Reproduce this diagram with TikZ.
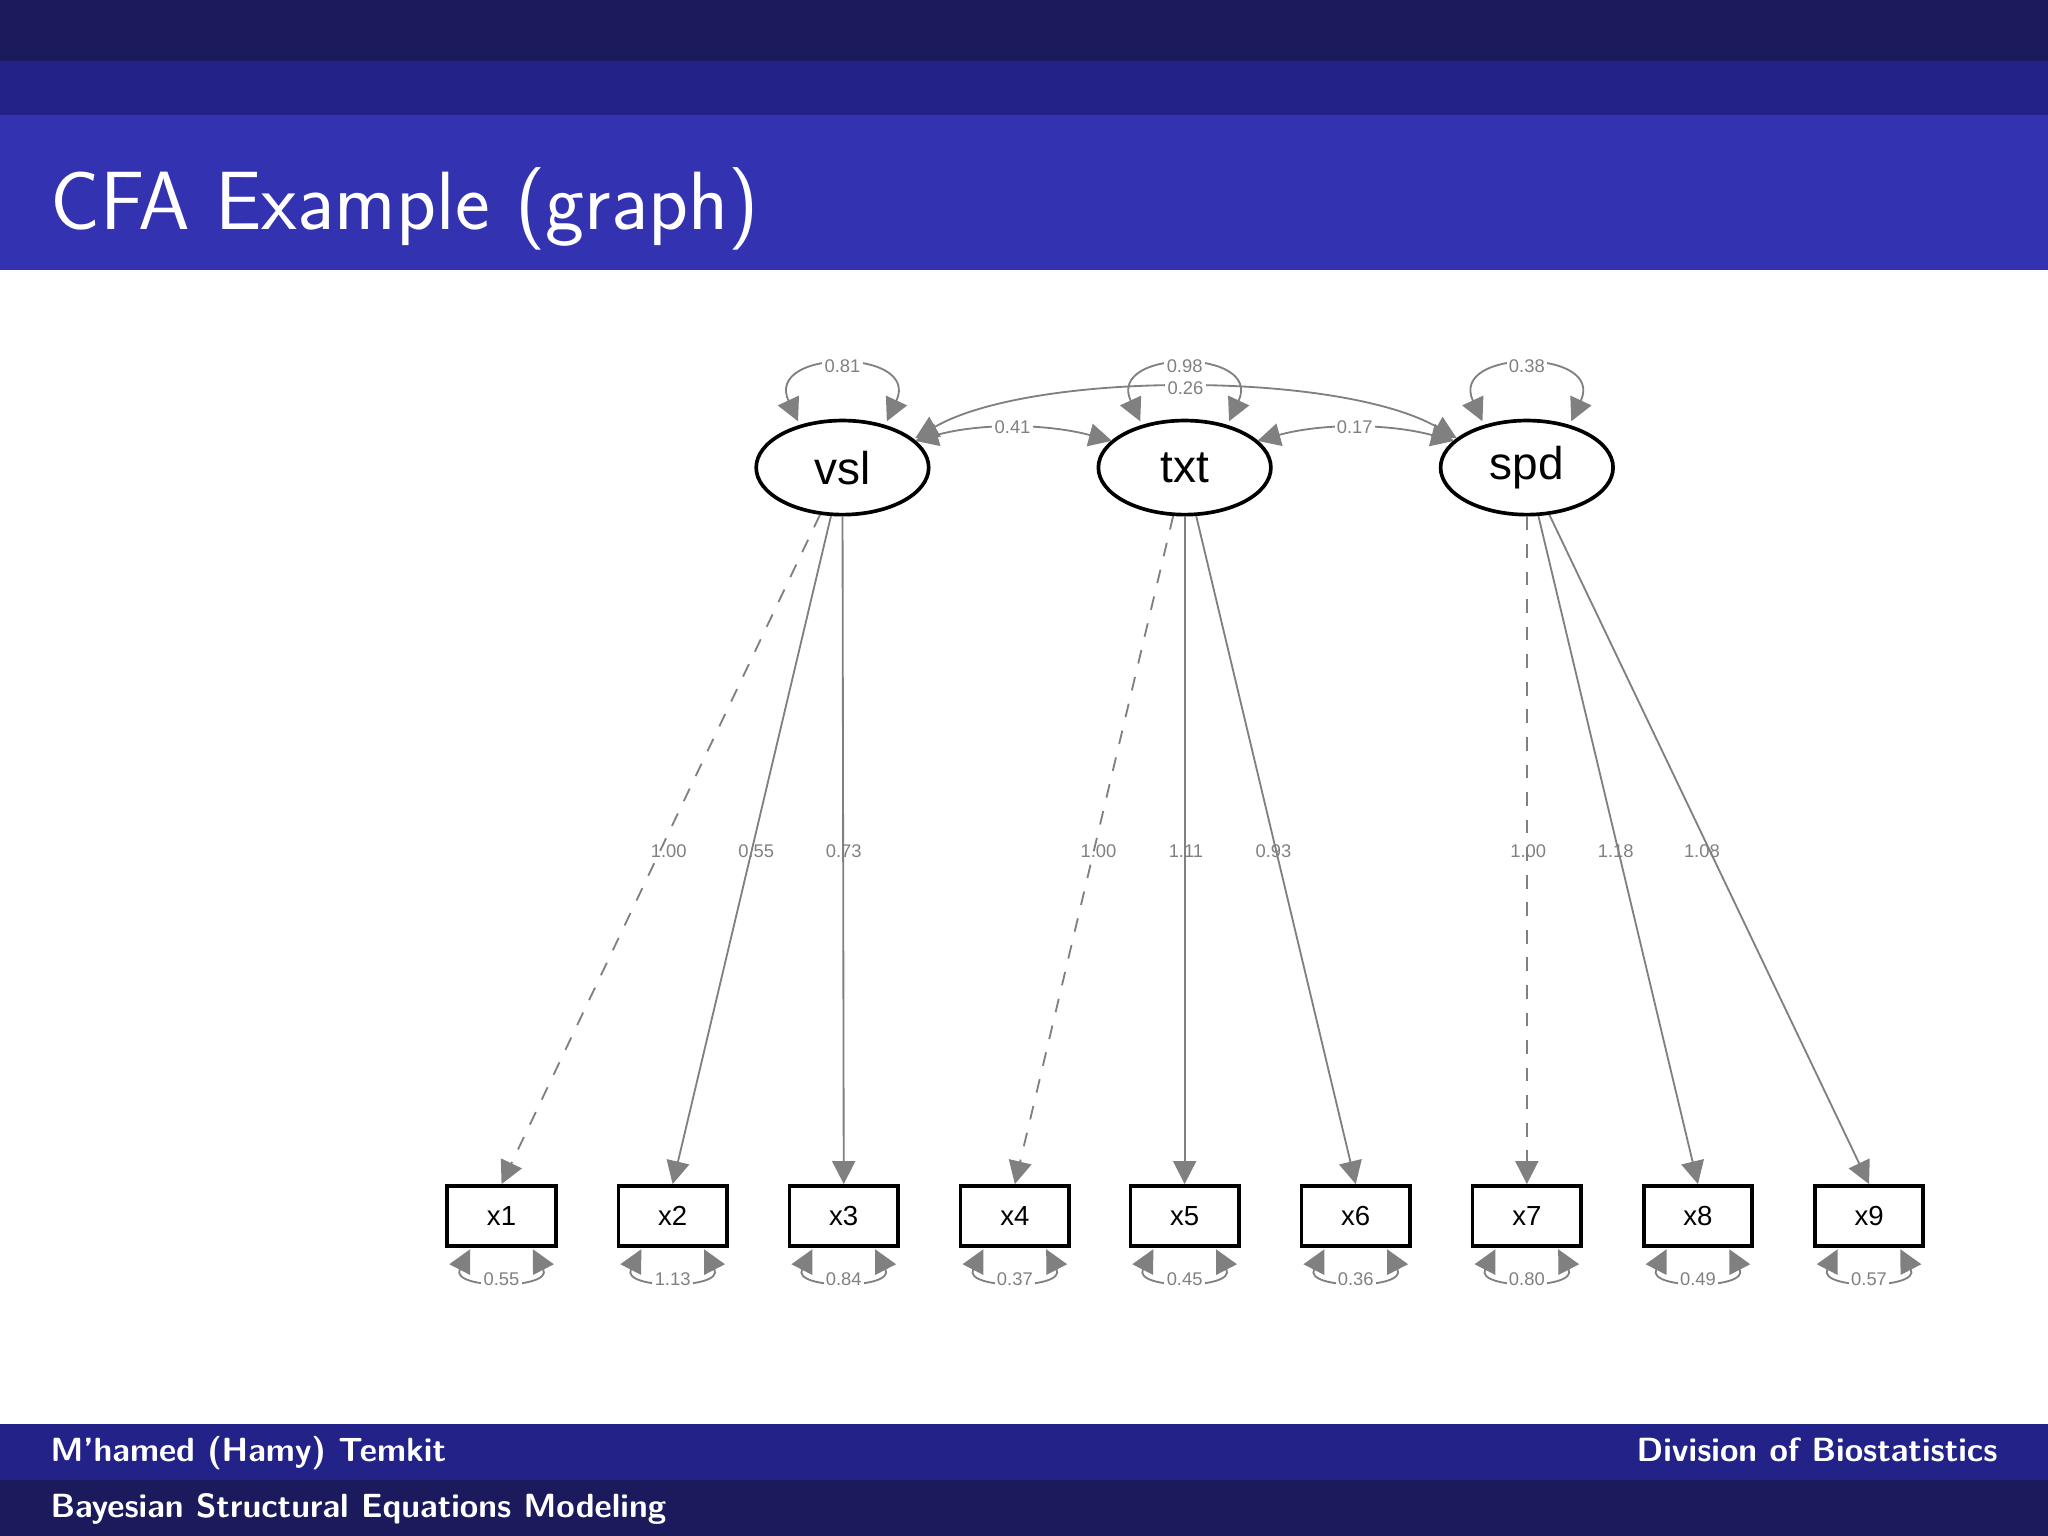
\documentclass[tikz,border=0pt]{standalone}
\usepackage{fontspec}
\newfontfamily\arial{Liberation Sans}
\usetikzlibrary{arrows.meta,shapes.geometric,calc}
\definecolor{barA}{HTML}{1A1A5C}
\definecolor{barB}{HTML}{222288}
\definecolor{barC}{HTML}{3333B2}
\definecolor{edge}{HTML}{808080}
\tikzset{
 lat/.style={ellipse,draw=black,thick,minimum width=1.32cm,minimum height=0.72cm,font=\arial\fontsize{10}{12}\selectfont,inner sep=0pt},
 obs/.style={rectangle,draw=black,thick,minimum width=0.83cm,minimum height=0.46cm,font=\arial\fontsize{6}{7}\selectfont,inner sep=0pt},
 load/.style={draw=edge,-{Triangle[width=5pt,length=5pt]}},
 cov/.style={draw=edge,{Triangle[width=5pt,length=5pt]}-{Triangle[width=5pt,length=5pt]}},
 lab/.style={font=\arial\fontsize{4}{5}\selectfont,text=edge,inner sep=0.5pt},
 wlab/.style={lab,fill=white}
}
\begin{document}
\begin{tikzpicture}[x=0.01cm,y=-0.01cm]
\useasboundingbox (0,0) rectangle (1568,1176);
\fill[barA] (0,0) rectangle (1568,47);
\fill[barB] (0,47) rectangle (1568,88);
\fill[barC] (0,88) rectangle (1568,207);
\node[anchor=base west,text=white,font=\sffamily\fontsize{18}{20}\selectfont,inner sep=0] (title) at (38,176) {CFA Example (graph)};
\fill[barB] (0,1090) rectangle (1568,1133);
\fill[barA] (0,1133) rectangle (1568,1176);
\node[anchor=base west,text=white,font=\sffamily\bfseries\fontsize{7.3}{9}\selectfont,inner sep=0] (auth) at (38,1119) {M'hamed (Hamy) Temkit};
\node[anchor=base east,text=white,font=\sffamily\bfseries\fontsize{7.3}{9}\selectfont,inner sep=0] (div) at (1530,1119) {Division of Biostatistics};
\node[anchor=base west,text=white,font=\sffamily\bfseries\fontsize{7.3}{9}\selectfont,inner sep=0] (talk) at (38,1162) {Bayesian Structural Equations Modeling};

\node[lat] (vsl) at (645,358) {vsl};
\node[lat] (txt) at (907,358) {txt};
\node[lat] (spd) at (1169,358) {spd};
\foreach \i/\x in {1/384,2/515,3/646,4/777,5/907,6/1038,7/1169,8/1300,9/1431}
  \node[obs] (x\i) at (\x,931) {x\i};

% loadings
\draw[load,dashed] (vsl) -- (x1.north);
\draw[load] (vsl) -- (x2.north);
\draw[load] (vsl) -- (x3.north);
\draw[load,dashed] (txt) -- (x4.north);
\draw[load] (txt) -- (x5.north);
\draw[load] (txt) -- (x6.north);
\draw[load,dashed] (spd) -- (x7.north);
\draw[load] (spd) -- (x8.north);
\draw[load] (spd) -- (x9.north);
\node[lab] (l1) at (512,652) {1.00};
\node[lab] (l2) at (579,652) {0.55};
\node[lab] (l3) at (646,652) {0.73};
\node[lab] (l4) at (841,652) {1.00};
\node[lab] (l5) at (908,652) {1.11};
\node[lab] (l6) at (975,652) {0.93};
\node[lab] (l7) at (1170,652) {1.00};
\node[lab] (l8) at (1237,652) {1.18};
\node[lab] (l9) at (1303,652) {1.08};

% latent variances
\foreach \n/\v in {vsl/0.81,txt/0.98,spd/0.38}
  \draw[cov] ($(\n.north)+(-34,2)$) .. controls ($(\n.north)+(-60,-54)$) and ($(\n.north)+(60,-54)$) .. ($(\n.north)+(34,2)$) node[pos=.5,wlab]{\v};

% covariances
\draw[cov] ($(vsl.north east)+(8,6)$) .. controls (750,324) and (800,324) .. ($(txt.north west)+(-8,6)$) node[pos=.5,wlab]{0.41};
\draw[cov] ($(txt.north east)+(8,6)$) .. controls (1012,324) and (1062,324) .. ($(spd.north west)+(-8,6)$) node[pos=.5,wlab]{0.17};
\draw[cov] ($(vsl.north east)+(8,4)$) .. controls (790,284) and (1025,284) .. ($(spd.north west)+(-6,4)$) node[pos=.5,wlab]{0.26};

% residual variances
\foreach \i/\v in {1/0.55,2/1.13,3/0.84,4/0.37,5/0.45,6/0.36,7/0.80,8/0.49,9/0.57}
  \draw[cov] ($(x\i.south)+(-24,1)$) .. controls ($(x\i.south)+(-40,32)$) and ($(x\i.south)+(40,32)$) .. ($(x\i.south)+(24,1)$) node[pos=.5,wlab]{\v};
\end{tikzpicture}
\end{document}
